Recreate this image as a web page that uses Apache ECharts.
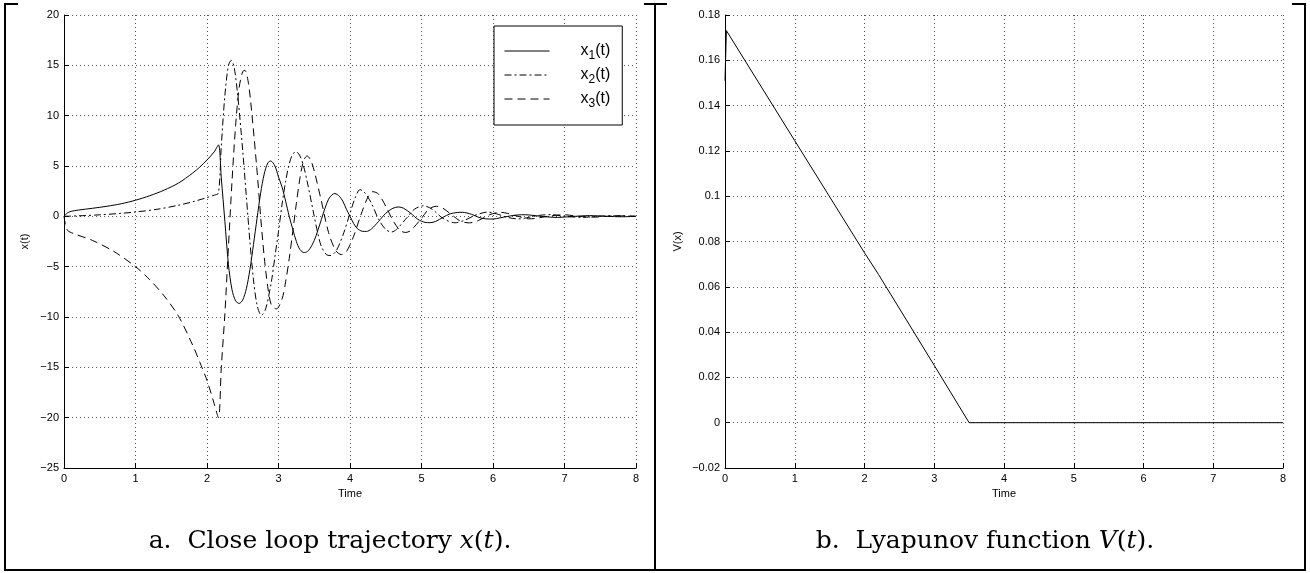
<!DOCTYPE html>
<html>
<head>
<meta charset="utf-8">
<script src="https://cdn.jsdelivr.net/npm/echarts@6/dist/echarts.min.js"></script>
<style>
html,body{margin:0;padding:0;background:#fff;}
#c{width:1310px;height:573px;}
</style>
</head>
<body>
<div id="c"></div>
<script>
// ---- data ----
const timeTicks = [0,1,2,3,4,5,6,7,8];
const seriesNames = ['x1','x2','x3'];
const x1 = [[0,0],[0.05,0.35],[0.1,0.5],[0.2,0.62],[0.4,0.8],[0.6,1.0],[0.8,1.25],[1.0,1.6],[1.2,2.05],[1.4,2.6],[1.6,3.3],[1.8,4.3],[1.9,4.9],[2.0,5.6],[2.1,6.4],[2.16,7.1],[2.2,3.8],[2.25,-0.5],[2.3,-4.8],[2.35,-7.3],[2.4,-8.4],[2.45,-8.65],[2.5,-8.3],[2.55,-7.2],[2.6,-5.3],[2.65,-2.8],[2.7,-0.2],[2.75,2.3],[2.8,4.2],[2.85,5.3],[2.89,5.5],[2.95,5.0],[3.0,3.9],[3.05,2.9],[3.1,1.5],[3.15,0],[3.2,-1.3],[3.25,-2.5],[3.3,-3.3],[3.36,-3.6],[3.42,-3.4],[3.5,-2.4],[3.55,-1.4],[3.6,-0.3],[3.65,0.8],[3.7,1.7],[3.75,2.15],[3.79,2.26],[3.85,2.0],[3.9,1.5],[3.95,0.7],[4.0,0],[4.05,-0.7],[4.1,-1.2],[4.17,-1.48],[4.23,-1.5],[4.3,-1.25],[4.4,-0.5],[4.5,0.3],[4.6,0.8],[4.68,0.93],[4.75,0.8],[4.85,0.3],[4.95,-0.3],[5.05,-0.6],[5.12,-0.63],[5.2,-0.5],[5.3,-0.1],[5.4,0.25],[5.5,0.38],[5.57,0.4],[5.7,0.2],[5.8,-0.1],[5.9,-0.25],[6.0,-0.27],[6.1,-0.15],[6.25,0.05],[6.4,0.16],[6.5,0.14],[6.7,-0.02],[6.9,-0.11],[7.1,-0.02],[7.35,0.07],[7.6,0],[7.8,-0.045],[8.0,0]];
const x2 = [[0,0],[0.2,0.05],[0.5,0.15],[0.8,0.3],[1.0,0.43],[1.3,0.7],[1.6,1.1],[1.8,1.45],[2.0,1.86],[2.1,2.1],[2.16,2.3],[2.2,7],[2.25,12],[2.3,15],[2.34,15.5],[2.38,14.8],[2.43,12],[2.5,6.5],[2.55,2],[2.6,-2.5],[2.65,-6.3],[2.7,-8.8],[2.76,-9.84],[2.82,-9.2],[2.9,-6.5],[2.95,-4],[3.0,-1.5],[3.05,1.2],[3.1,3.5],[3.15,5.2],[3.2,6.2],[3.25,6.4],[3.3,6.0],[3.35,5.0],[3.4,3.5],[3.5,0],[3.55,-1.7],[3.6,-3.0],[3.67,-3.8],[3.72,-3.9],[3.8,-3.5],[3.9,-1.9],[4.0,0.3],[4.07,1.8],[4.14,2.65],[4.2,2.4],[4.3,1.3],[4.4,-0.3],[4.5,-1.3],[4.58,-1.56],[4.65,-1.3],[4.8,-0.1],[4.9,0.7],[5.03,1.05],[5.15,0.7],[5.3,-0.2],[5.47,-0.64],[5.6,-0.4],[5.75,0.1],[5.92,0.42],[6.05,0.25],[6.2,-0.1],[6.36,-0.26],[6.5,-0.1],[6.65,0.1],[6.81,0.17],[7.0,0],[7.25,-0.1],[7.5,0.02],[7.7,0.06],[8.0,0]];
const x3 = [[0,0],[0.02,-0.8],[0.05,-1.4],[0.13,-1.7],[0.4,-2.4],[0.7,-3.5],[1.0,-5.0],[1.2,-6.3],[1.4,-7.9],[1.6,-9.9],[1.8,-12.8],[1.9,-14.5],[2.0,-16.3],[2.1,-18.6],[2.16,-20],[2.2,-15],[2.25,-9.7],[2.3,-3],[2.35,3.5],[2.4,9],[2.45,12.8],[2.5,14.4],[2.53,14.5],[2.58,13.2],[2.63,10],[2.7,4.5],[2.75,0],[2.8,-4],[2.85,-7],[2.9,-8.8],[2.97,-9.2],[3.05,-8.2],[3.1,-6.5],[3.15,-4.2],[3.2,-1.5],[3.25,1.3],[3.3,3.8],[3.35,5.5],[3.4,6.0],[3.45,5.6],[3.5,4.5],[3.6,1.5],[3.7,-1.6],[3.8,-3.4],[3.88,-3.8],[3.95,-3.5],[4.05,-2],[4.15,0.1],[4.25,1.9],[4.32,2.45],[4.4,2.2],[4.5,1.0],[4.6,-0.4],[4.7,-1.4],[4.78,-1.6],[4.85,-1.4],[5.0,-0.2],[5.1,0.7],[5.21,1.0],[5.3,0.8],[5.45,0],[5.55,-0.5],[5.67,-0.65],[5.8,-0.4],[5.95,0.15],[6.1,0.4],[6.2,0.3],[6.35,0],[6.5,-0.25],[6.6,-0.2],[6.8,0.05],[7.0,0.15],[7.2,0],[7.4,-0.08],[7.6,0],[7.8,0.05],[8.0,0]];
const lyapunov = [[0,0.151],[0.02,0.1731],[1,0.1245],[2,0.075],[2.2,0.0655],[3,0.0253],[3.5,0],[8,0]];
const leftYTicks = [-25,-20,-15,-10,-5,0,5,10,15,20];
const rightYTicks = [-0.02,0,0.02,0.04,0.06,0.08,0.1,0.12,0.14,0.16,0.18];

const FONT = 'Liberation Sans';
const fmt = v => String(+(+v).toFixed(4)).replace('-', '\u2212');

function xAxisCfg(gi){
  return {
    type:'value', gridIndex:gi, min:timeTicks[0], max:timeTicks[timeTicks.length-1], interval:1,
    name:'Time', nameLocation:'middle', nameGap:18,
    nameTextStyle:{color:'#000', fontSize:11, fontFamily:FONT},
    axisLine:{show:true, onZero:false, lineStyle:{color:'#000', width:1}},
    axisTick:{show:true, inside:true, length:5, lineStyle:{color:'#000'}},
    axisLabel:{color:'#000', fontSize:11, fontFamily:FONT, margin:5, formatter:fmt},
    splitLine:{show:true, lineStyle:{color:'#555', width:1, type:[1,3]}}
  };
}
function yAxisCfg(gi, ticks, interval, name, gap){
  return {
    type:'value', gridIndex:gi, min:ticks[0], max:ticks[ticks.length-1], interval:interval,
    name:name, nameLocation:'middle', nameGap:gap, nameRotate:90,
    nameTextStyle:{color:'#000', fontSize:11, fontFamily:FONT},
    axisLine:{show:true, onZero:false, lineStyle:{color:'#000', width:1}},
    axisTick:{show:true, inside:true, length:5, lineStyle:{color:'#000'}},
    axisLabel:{color:'#000', fontSize:11, fontFamily:FONT, margin:5, formatter:fmt},
    splitLine:{show:true, lineStyle:{color:'#555', width:1, type:[1,3]}}
  };
}

const chart = echarts.init(document.getElementById('c'), null, {renderer:'canvas'});
const frame = {stroke:'#000', lineWidth:2};
const capRich = {
  r:{fontFamily:'DejaVu Serif', fontSize:25, color:'#000'},
  i:{fontFamily:'DejaVu Serif', fontStyle:'italic', fontSize:25, color:'#000'}
};
chart.setOption({
  animation:false,
  backgroundColor:'#fff',
  grid:[
    {left:64, top:15, width:572, height:453},
    {left:725, top:15, width:558, height:453}
  ],
  xAxis:[xAxisCfg(0), xAxisCfg(1)],
  yAxis:[
    yAxisCfg(0, leftYTicks, 5, 'x(t)', 34),
    yAxisCfg(1, rightYTicks, 0.02, 'V(x)', 42)
  ],
  legend:{
    data:seriesNames, orient:'vertical', left:494, top:26,
    backgroundColor:'#fff', borderColor:'#000', borderWidth:1,
    padding:[17,12,15,10], itemGap:5, itemWidth:45, itemHeight:12,
    selectedMode:false,
    itemStyle:{color:'rgba(0,0,0,0)', borderWidth:0, opacity:0},
    lineStyle:{width:1, color:'#000'},
    formatter: n => '{sp|}{a|x}{s|' + n.slice(1) + '}{a|(t)}',
    textStyle:{
      color:'#000', fontFamily:FONT, fontSize:16,
      rich:{
        sp:{width:26},
        a:{fontFamily:FONT, fontSize:16, color:'#000', lineHeight:21},
        s:{fontFamily:FONT, fontSize:12, color:'#000', padding:[10,0,0,0]}
      }
    }
  },
  series:[
    {name:'x1', type:'line', xAxisIndex:0, yAxisIndex:0, data:x1, symbol:'none', smooth:0.3,
     lineStyle:{color:'#000', width:1, type:'solid'}, itemStyle:{color:'#000'}},
    {name:'x2', type:'line', xAxisIndex:0, yAxisIndex:0, data:x2, symbol:'none', smooth:0.3,
     lineStyle:{color:'#000', width:1, type:[7,3,2,3]}, itemStyle:{color:'#000'}},
    {name:'x3', type:'line', xAxisIndex:0, yAxisIndex:0, data:x3, symbol:'none', smooth:0.3,
     lineStyle:{color:'#000', width:1, type:[8,5]}, itemStyle:{color:'#000'}},
    {name:'V', type:'line', xAxisIndex:1, yAxisIndex:1, data:lyapunov, symbol:'none',
     lineStyle:{color:'#000', width:1}, itemStyle:{color:'#000'}}
  ],
  graphic:[
    {type:'line', shape:{x1:5, y1:3, x2:5, y2:571}, style:frame},
    {type:'line', shape:{x1:4, y1:4, x2:18, y2:4}, style:frame},
    {type:'line', shape:{x1:655, y1:3, x2:655, y2:571}, style:frame},
    {type:'line', shape:{x1:644, y1:4, x2:667, y2:4}, style:frame},
    {type:'line', shape:{x1:1305, y1:3, x2:1305, y2:571}, style:frame},
    {type:'line', shape:{x1:1292, y1:4, x2:1306, y2:4}, style:frame},
    {type:'line', shape:{x1:4, y1:570, x2:1306, y2:570}, style:frame},
    {type:'text', x:330, y:541, style:{text:'{r|a.  Close loop trajectory }{i|x}{r|(}{i|t}{r|).}', rich:capRich, align:'center', verticalAlign:'middle'}},
    {type:'text', x:985, y:541, style:{text:'{r|b.  Lyapunov function }{i|V}{r|(}{i|t}{r|).}', rich:capRich, align:'center', verticalAlign:'middle'}}
  ]
});
</script>
</body>
</html>
